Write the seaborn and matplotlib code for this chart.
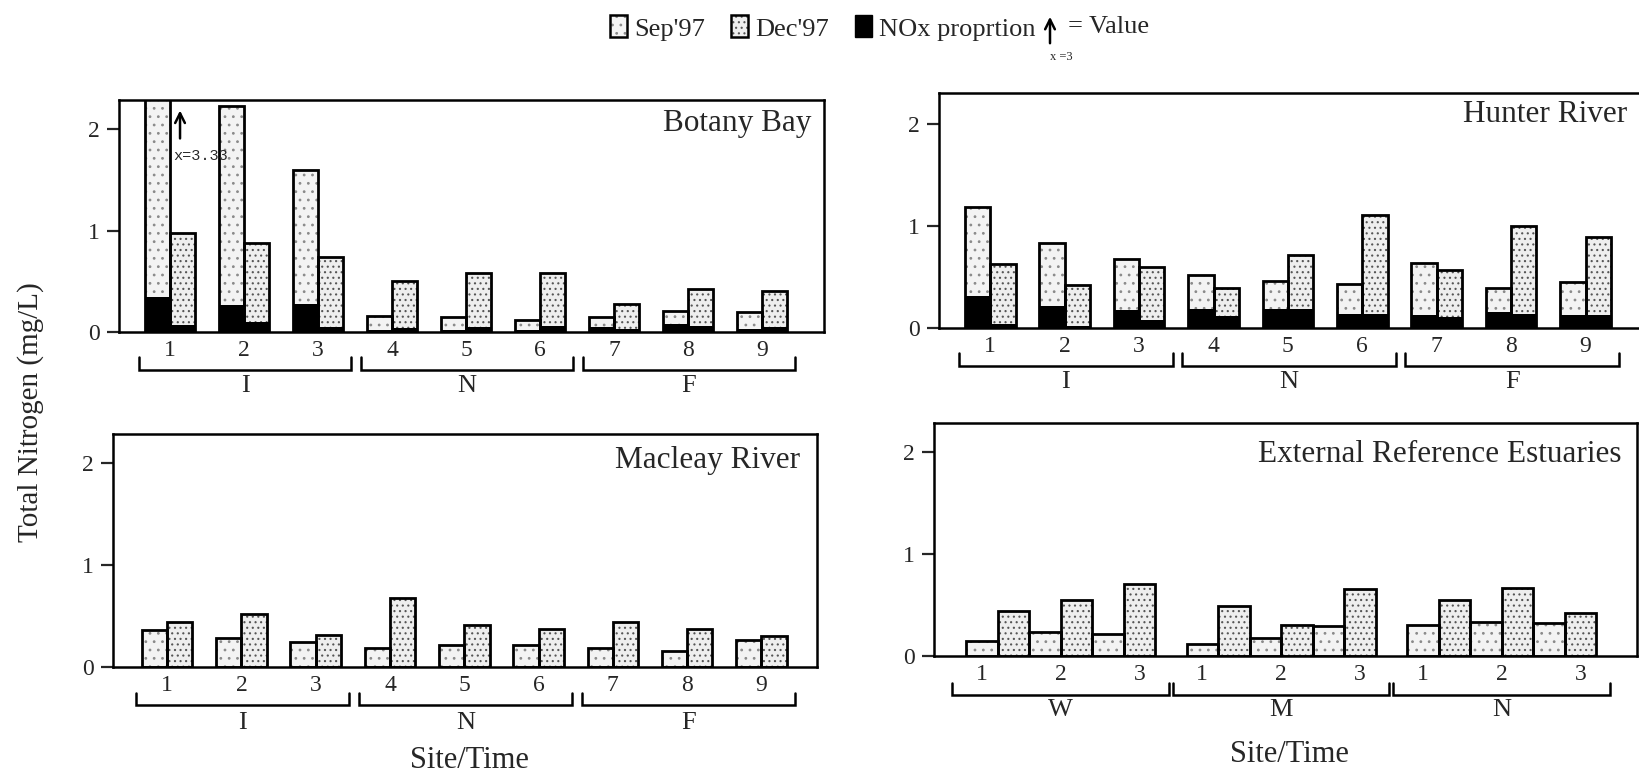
import numpy as np
import pandas as pd
import matplotlib
matplotlib.use("Agg")
import matplotlib.pyplot as plt
import seaborn as sns
from matplotlib.patches import Patch
from matplotlib.legend_handler import HandlerTuple

# ---------------------------------------------------------------- data
months = ["Sep'97", "Dec'97"]
sites9 = ["1", "2", "3", "4", "5", "6", "7", "8", "9"]
zones = ["I", "N", "F"]

botany_sep = [3.33, 2.23, 1.60, 0.16, 0.15, 0.12, 0.15, 0.21, 0.20]
botany_dec = [0.98, 0.88, 0.74, 0.50, 0.58, 0.58, 0.28, 0.42, 0.40]
botany_nox_sep = [0.34, 0.27, 0.28, 0.02, 0.02, 0.02, 0.05, 0.08, 0.03]
botany_nox_dec = [0.07, 0.10, 0.05, 0.04, 0.05, 0.06, 0.03, 0.06, 0.05]

hunter_sep = [1.18, 0.83, 0.68, 0.52, 0.46, 0.43, 0.64, 0.39, 0.45]
hunter_dec = [0.63, 0.42, 0.60, 0.39, 0.71, 1.11, 0.57, 1.00, 0.89]
hunter_nox_sep = [0.31, 0.22, 0.18, 0.19, 0.19, 0.14, 0.13, 0.16, 0.13]
hunter_nox_dec = [0.04, 0.02, 0.08, 0.12, 0.19, 0.14, 0.11, 0.14, 0.13]

macleay_sep = [0.36, 0.28, 0.24, 0.19, 0.22, 0.22, 0.19, 0.16, 0.26]
macleay_dec = [0.44, 0.52, 0.31, 0.68, 0.41, 0.37, 0.44, 0.37, 0.30]

estuaries = ["W", "M", "N"]
sites3 = ["1", "2", "3"]
external_sep = [0.15, 0.24, 0.22, 0.12, 0.18, 0.29, 0.30, 0.33, 0.32]
external_dec = [0.44, 0.55, 0.71, 0.49, 0.30, 0.66, 0.55, 0.67, 0.42]

legend_arrow_value = 3

# ---------------------------------------------------------------- style
W, H, DPI = 1639, 779, 100
sns.set_style("white")
plt.rcParams["font.family"] = ["Liberation Serif", "DejaVu Serif"]
plt.rcParams["hatch.linewidth"] = 0.8

SEP_FACE, SEP_DOT, SEP_HATCH = "#f3f3f3", "#8a8a8a", ".."
DEC_FACE, DEC_DOT, DEC_HATCH = "#eeeeee", "#555555", "..."
EDGE_LW = 2.0
TICK_FS = 17
GROUP_FS = 19
LEGEND_FS = 19
ARROW_STYLE = "->,head_length=0.7,head_width=0.35"

fig = plt.figure(figsize=(W / DPI, H / DPI), dpi=DPI)


def add_axes_px(left, top, right, bottom):
    return fig.add_axes([left / W, 1 - bottom / H, (right - left) / W, (bottom - top) / H])


def draw_bars(ax, pos, sep, dec, nox_sep=None, nox_dec=None, width=0.68):
    df = pd.DataFrame({
        "pos": list(pos) * 2,
        "tn": list(sep) + list(dec),
        "month": [months[0]] * len(sep) + [months[1]] * len(dec),
    })
    common = dict(data=df, x="pos", hue="month", hue_order=months,
                  native_scale=True, dodge=True, width=width,
                  errorbar=None, legend=False, ax=ax, saturation=1)
    # stippled fill
    sns.barplot(y="tn", palette=[SEP_FACE, DEC_FACE], linewidth=0, **common)
    for cont, (hatch, dot) in zip(ax.containers, [(SEP_HATCH, SEP_DOT), (DEC_HATCH, DEC_DOT)]):
        for bar in cont:
            bar.set_hatch(hatch)
            bar.set_edgecolor(dot)
            bar.set_linewidth(0)
    # NOx proportion at the base of each bar
    if nox_sep is not None:
        df["nox"] = list(nox_sep) + list(nox_dec)
        sns.barplot(y="nox", palette=["black", "black"], linewidth=0, **common)
    # heavy outlines
    sns.barplot(y="tn", palette=["black", "black"], fill=False,
                linewidth=EDGE_LW, **common)


def style_axes(ax, ylim_top, xlim, ticks, ticklabels):
    ax.set_ylim(0, ylim_top)
    ax.set_xlim(*xlim)
    ax.set_yticks([0, 1, 2])
    ax.set_yticklabels(["0", "1", "2"])
    ax.set_xticks(ticks)
    ax.set_xticklabels(ticklabels)
    ax.set_xlabel("")
    ax.set_ylabel("")
    ax.tick_params(axis="y", left=True, direction="out", length=9, width=1.6,
                   pad=5, labelsize=TICK_FS)
    ax.tick_params(axis="x", bottom=False, length=0, pad=6, labelsize=TICK_FS)
    for sp in ax.spines.values():
        sp.set_visible(True)
        sp.set_linewidth(1.8)
        sp.set_color("black")
    ax.grid(False)


def brackets(ax, spans, labels, ax_h_px, top_px=25, bot_px=38, lab_px=54):
    tr = ax.get_xaxis_transform()
    y0, y1, yl = -top_px / ax_h_px, -bot_px / ax_h_px, -lab_px / ax_h_px
    for (x0, x1), lab in zip(spans, labels):
        ax.plot([x0, x0, x1, x1], [y0, y1, y1, y0], color="black", lw=1.8,
                transform=tr, clip_on=False, solid_joinstyle="miter")
        ax.text((x0 + x1) / 2, yl, lab, transform=tr, ha="center", va="center",
                fontsize=GROUP_FS)


def title(ax, text, right_px, base_px, ax_w_px, ax_h_px):
    ax.text(1 - right_px / ax_w_px, 1 - base_px / ax_h_px, text, transform=ax.transAxes,
            ha="right", va="baseline", fontsize=22.5)


pos9 = np.arange(len(sites9))
zone_spans = [(pos9[3 * k] - 0.42, pos9[3 * k + 2] + 0.45) for k in range(3)]

# ---------------------------------------------------------------- Botany Bay
ax1 = add_axes_px(119, 100, 824, 332)
draw_bars(ax1, pos9, botany_sep, botany_dec, botany_nox_sep, botany_nox_dec)
style_axes(ax1, 2.286, (-0.69, 8.84), pos9, sites9)
brackets(ax1, zone_spans, zones, 232)
title(ax1, "Botany Bay", 13, 31, 705, 232)
ax1.annotate("", xy=(0.135, 2.21), xytext=(0.135, 1.88),
             arrowprops=dict(arrowstyle=ARROW_STYLE, lw=1.8, color="black"))
ax1.text(0.04, 1.73, f"x={botany_sep[0]:.2f}", ha="left", va="center",
         fontsize=11, family="Liberation Mono")

# ---------------------------------------------------------------- Hunter River
ax2 = add_axes_px(939, 93, 1648, 328)
draw_bars(ax2, pos9, hunter_sep, hunter_dec, hunter_nox_sep, hunter_nox_dec)
style_axes(ax2, 2.30, (-0.69, 8.84), pos9, sites9)
brackets(ax2, zone_spans, zones, 235)
title(ax2, "Hunter River", 21, 29, 709, 235)

# ---------------------------------------------------------------- Macleay River
ax3 = add_axes_px(113, 434, 817, 667)
draw_bars(ax3, pos9, macleay_sep, macleay_dec)
style_axes(ax3, 2.28, (-0.73, 8.75), pos9, sites9)
brackets(ax3, zone_spans, zones, 233, top_px=26, bot_px=38, lab_px=56)
title(ax3, "Macleay River", 17, 34, 704, 233)

# ---------------------------------------------------------------- External reference estuaries
ax4 = add_axes_px(934, 423, 1637, 656)
pos_ext = np.array([g * 3.5 + k for g in range(len(estuaries)) for k in range(len(sites3))])
draw_bars(ax4, pos_ext, external_sep, external_dec, width=1.0)
ext_ticks = [g * 3.5 + 1 + (k - 1) * 1.25 for g in range(3) for k in range(3)]
style_axes(ax4, 2.285, (-1.01, 10.15), ext_ticks, sites3 * 3)
ext_spans = [(g * 3.5 - 0.72, g * 3.5 + 2.72) for g in range(3)]
brackets(ax4, ext_spans, estuaries, 233, top_px=27, bot_px=39, lab_px=54)
title(ax4, "External Reference Estuaries", 16, 39, 703, 233)

# ---------------------------------------------------------------- shared labels
fig.text(31 / W, 1 - 412 / H, "Total Nitrogen (mg/L)", rotation=90,
         ha="center", va="center", fontsize=21)
fig.text(469 / W, 1 - 761 / H, "Site/Time", ha="center", va="center", fontsize=22)
fig.text(1289 / W, 1 - 755 / H, "Site/Time", ha="center", va="center", fontsize=22)

# ---------------------------------------------------------------- legend
sep_handle = (Patch(facecolor=SEP_FACE, edgecolor=SEP_DOT, hatch=SEP_HATCH, linewidth=0),
              Patch(facecolor="none", edgecolor="black", linewidth=1.8))
dec_handle = (Patch(facecolor=DEC_FACE, edgecolor=DEC_DOT, hatch=DEC_HATCH, linewidth=0),
              Patch(facecolor="none", edgecolor="black", linewidth=1.8))
nox_handle = Patch(facecolor="black", edgecolor="black")
fig.legend([sep_handle, dec_handle, nox_handle], [months[0], months[1], "NOx proprtion"],
           handler_map={tuple: HandlerTuple(ndivide=1, pad=0)}, ncol=3,
           loc="center left", bbox_to_anchor=(610 / W, 1 - 28 / H), frameon=False,
           fontsize=LEGEND_FS, handlelength=0.65, handleheight=0.9, handletextpad=0.25,
           columnspacing=1.0, borderpad=0, borderaxespad=0)
ax1.annotate("", xy=(1050, H - 14), xytext=(1050, H - 46), xycoords="figure pixels",
             textcoords="figure pixels", annotation_clip=False,
             arrowprops=dict(arrowstyle=ARROW_STYLE, lw=1.8, color="black"))
fig.text(1068 / W, 1 - 27 / H, "= Value", ha="left", va="center", fontsize=LEGEND_FS)
fig.text(1061 / W, 1 - 57 / H, f"x ={legend_arrow_value}", ha="center", va="center",
         fontsize=9)

fig.savefig("out.png", dpi=DPI)
